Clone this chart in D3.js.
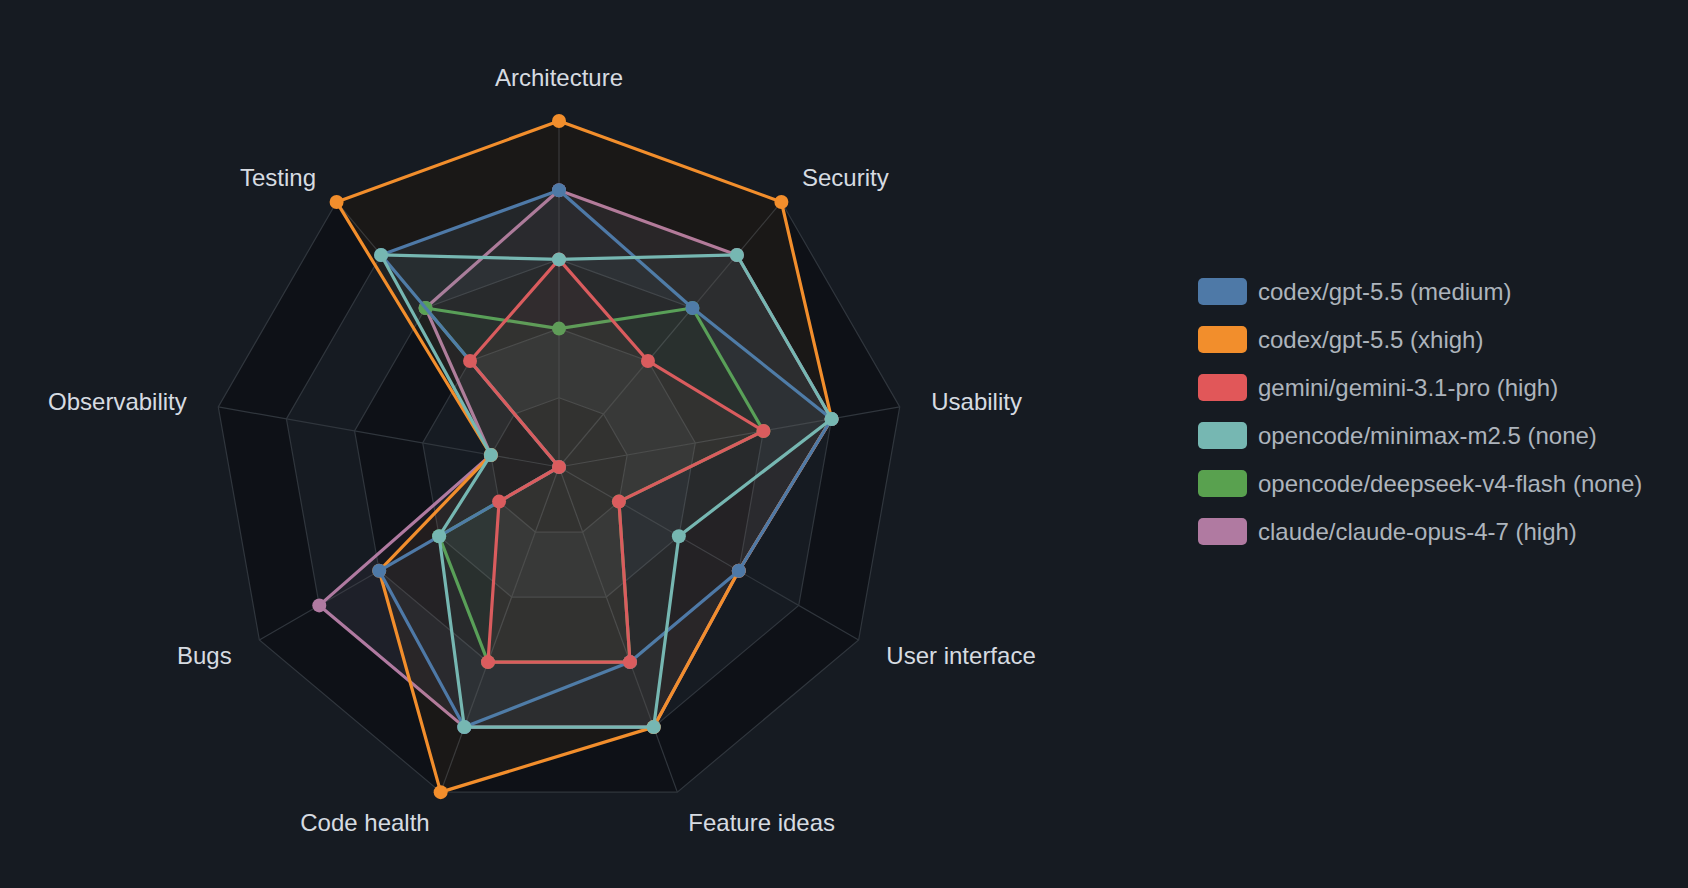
<!DOCTYPE html>
<html>
<head>
<meta charset="utf-8">
<script src="https://cdn.jsdelivr.net/npm/d3@7"></script>
<style>
  html, body { margin: 0; padding: 0; background: #161b22; }
  svg { display: block; }
</style>
</head>
<body>
<div id="chart"></div>
<script>
// axes, clockwise from the top
const axes = ["Architecture", "Security", "Usability", "User interface", "Feature ideas",
              "Code health", "Bugs", "Observability", "Testing"];

const models = ["codex/gpt-5.5 (medium)", "codex/gpt-5.5 (xhigh)", "gemini/gemini-3.1-pro (high)",
                "opencode/minimax-m2.5 (none)", "opencode/deepseek-v4-flash (none)", "claude/claude-opus-4-7 (high)"];
const colors = ["#4e79a7", "#f28e2c", "#e15759", "#76b7b2", "#59a14f", "#b07aa1"];

const codexMedium = [4, 3, 4, 3, 3, 4, 3, 0, 4];
const codexXhigh  = [5, 5, 4, 3, 4, 5, 3, 1, 5];
const gemini      = [3, 2, 3, 1, 3, 3, 1, 0, 2];
const minimax     = [3, 4, 4, 2, 4, 4, 2, 1, 4];
const deepseek    = [2, 3, 3, 1, 3, 3, 2, 0, 3];
const claude      = [4, 4, 4, 3, 4, 4, 4, 1, 3];

const scores = [codexMedium, codexXhigh, gemini, minimax, deepseek, claude];
const levels = [1, 2, 3, 4, 5];
// which series end up on top (last drawn)
const drawOrder = [5, 1, 4, 0, 2, 3];

document.addEventListener('DOMContentLoaded', function () {
    const width = 1688, height = 888;
    const cx = 559, cy = 467, radius = 346;

    const svg = d3.select("#chart")
        .append("svg")
        .attr("width", width)
        .attr("height", height);

    const g = svg.append("g")
        .attr("transform", "translate(" + cx + "," + cy + ")");

    const rScale = d3.scaleLinear().domain([0, 5]).range([0, radius]);
    const angle = d3.scaleLinear().domain([0, axes.length]).range([0, 2 * Math.PI]);

    const point = (i, v) => [rScale(v) * Math.sin(angle(i)), -rScale(v) * Math.cos(angle(i))];

    const ring = d3.line().curve(d3.curveLinearClosed);

    // alternating bands, outer first
    levels.slice().reverse().forEach(function (lv) {
        g.append("path")
            .attr("d", ring(axes.map((a, i) => point(i, lv))))
            .attr("fill", lv % 2 === 1 ? "#0e1117" : "#161b22")
            .attr("stroke", "#30363d")
            .attr("stroke-width", 1.2);
    });

    // spokes
    g.selectAll(".spoke")
        .data(axes)
        .join("line")
        .attr("class", "spoke")
        .attr("x1", 0).attr("y1", 0)
        .attr("x2", (d, i) => point(i, 5)[0])
        .attr("y2", (d, i) => point(i, 5)[1])
        .attr("stroke", "#30363d")
        .attr("stroke-width", 1.2);

    // series
    drawOrder.forEach(function (s) {
        const pts = scores[s].map((v, i) => point(i, v));
        const layer = g.append("g");

        layer.append("path")
            .attr("d", ring(pts))
            .attr("fill", colors[s])
            .attr("fill-opacity", 0.055)
            .attr("stroke", colors[s])
            .attr("stroke-width", 3.2)
            .attr("stroke-linejoin", "round");

        layer.selectAll("circle")
            .data(pts)
            .join("circle")
            .attr("cx", d => d[0])
            .attr("cy", d => d[1])
            .attr("r", 7)
            .attr("fill", colors[s]);
    });

    // axis labels
    const labelR = radius + 32;
    g.selectAll(".axis-label")
        .data(axes)
        .join("text")
        .attr("class", "axis-label")
        .attr("x", (d, i) => labelR * Math.sin(angle(i)))
        .attr("y", (d, i) => -labelR * Math.cos(angle(i)))
        .attr("dy", (d, i) => Math.abs(Math.sin(angle(i))) < 0.01 ? "-0.12em" : "0.35em")
        .attr("text-anchor", function (d, i) {
            const s = Math.sin(angle(i));
            return Math.abs(s) < 0.01 ? "middle" : (s > 0 ? "start" : "end");
        })
        .style("font-family", "'Liberation Sans', Arial, sans-serif")
        .style("font-size", "24px")
        .attr("fill", "#d6dbe1")
        .text(d => d);

    // legend
    const legend = svg.append("g")
        .attr("transform", "translate(1198,278)");

    const rows = legend.selectAll("g")
        .data(models)
        .join("g")
        .attr("transform", (d, i) => "translate(0," + (i * 48) + ")");

    rows.append("rect")
        .attr("width", 49)
        .attr("height", 27)
        .attr("rx", 5)
        .attr("fill", (d, i) => colors[i]);

    rows.append("text")
        .attr("x", 60)
        .attr("y", 13.5)
        .attr("dy", "0.35em")
        .style("font-family", "'Liberation Sans', Arial, sans-serif")
        .style("font-size", "24px")
        .attr("fill", "#adb4bc")
        .text(d => d);
});
</script>
</body>
</html>
